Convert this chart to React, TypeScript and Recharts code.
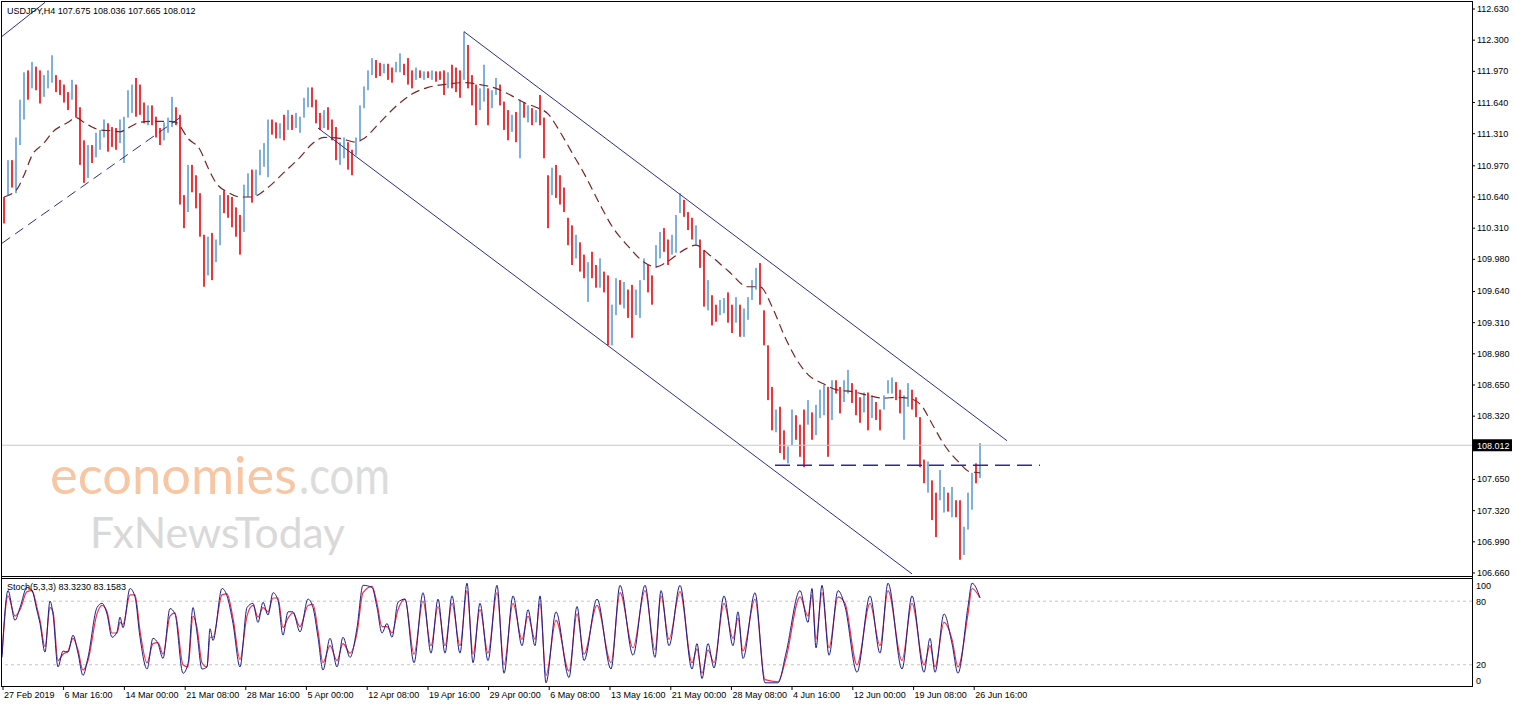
import React from 'react';
import { ComposedChart, Bar, Line, XAxis, YAxis, ReferenceLine } from 'recharts';

// USDJPY H4, 27 Feb - 26 Jun 2019, one stick per slot
const highs = [
  110.64, 111.03, 111.03, 111.27, 111.67, 111.96, 111.98, 112.07, 112.02, 111.98,
  111.93, 111.98, 112.14, 111.93, 111.88, 111.83, 111.75, 111.88, 111.83, 111.59,
  111.24, 111.19, 111.19, 111.32, 111.35, 111.46, 111.42, 111.38, 111.37, 111.46,
  111.49, 111.77, 111.83, 111.9, 111.83, 111.64, 111.61, 111.61, 111.49, 111.37,
  111.43, 111.48, 111.7, 111.59, 111.51, 110.66, 110.98, 110.98, 110.87, 110.68,
  110.24, 110.22, 110.26, 110.19, 110.66, 110.71, 110.66, 110.64, 110.53, 110.45,
  110.77, 110.89, 110.93, 110.93, 111.14, 111.21, 111.46, 111.46, 111.43, 111.42,
  111.51, 111.56, 111.51, 111.53, 111.49, 111.69, 111.8, 111.8, 111.67, 111.53,
  111.56, 111.59, 111.46, 111.38, 111.22, 111.27, 111.22, 111.14, 111.27, 111.61,
  111.81, 111.98, 112.11, 112.09, 112.06, 112.05, 112.05, 112.01, 112.07, 112.16,
  112.05, 112.11, 111.98, 112.01, 111.98, 111.97, 111.97, 111.98, 111.97, 111.97,
  111.98, 111.96, 112.04, 112.01, 111.98, 112.39, 112.25, 111.93, 111.83, 111.79,
  112.04, 111.79, 111.77, 111.9, 111.83, 111.65, 111.56, 111.51, 111.54, 111.67,
  111.64, 111.61, 111.58, 111.56, 111.72, 111.48, 110.87, 110.95, 110.98, 110.87,
  110.74, 110.42, 110.34, 110.24, 110.16, 110.03, 109.95, 110.06, 109.92, 109.99,
  109.85, 109.81, 109.5, 109.78, 109.76, 109.74, 109.66, 109.71, 109.66, 109.76,
  109.99, 109.92, 109.81, 110.13, 110.27, 110.31, 110.19, 110.24, 110.45, 110.68,
  110.61, 110.48, 110.42, 110.34, 110.19, 110.08, 109.76, 109.6, 109.5, 109.55,
  109.57, 109.63, 109.5, 109.58, 109.5, 109.46, 109.58, 109.76, 109.89, 109.94,
  109.44, 109.07, 108.63, 108.39, 108.42, 108.17, 108.0, 108.39, 108.33, 108.23,
  108.39, 108.49, 108.36, 108.44, 108.6, 108.65, 108.63, 108.7, 108.7, 108.63,
  108.7, 108.81, 108.67, 108.6, 108.52, 108.57, 108.57, 108.54, 108.47, 108.39,
  108.54, 108.7, 108.73, 108.68, 108.6, 108.54, 108.67, 108.6, 108.52, 108.31,
  107.86, 107.84, 107.64, 107.51, 107.75, 107.57, 107.51, 107.57, 107.43, 107.43,
  107.15, 107.51, 107.72, 107.82, 108.036,
];

const lows = [
  110.36, 110.66, 110.74, 110.68, 111.19, 111.46, 111.67, 111.79, 111.77, 111.63,
  111.7, 111.79, 111.85, 111.75, 111.72, 111.64, 111.56, 111.67, 111.48, 110.98,
  110.79, 110.84, 111.0, 111.06, 111.14, 111.27, 111.12, 111.17, 111.14, 111.21,
  111.0, 111.48, 111.53, 111.49, 111.51, 111.42, 111.4, 111.4, 111.27, 111.19,
  111.24, 111.32, 111.38, 111.4, 110.56, 110.31, 110.48, 110.69, 110.52, 110.22,
  109.69, 109.81, 109.76, 109.95, 110.13, 110.47, 110.42, 110.32, 110.22, 110.03,
  110.27, 110.64, 110.58, 110.66, 110.87, 110.96, 110.85, 111.3, 111.26, 111.26,
  111.24, 111.35, 111.35, 111.37, 111.32, 111.48, 111.59, 111.59, 111.42, 111.35,
  111.37, 111.35, 111.24, 111.03, 110.98, 111.05, 110.93, 110.87, 111.08, 111.24,
  111.58, 111.77, 111.93, 111.9, 111.92, 111.95, 111.88, 111.85, 111.96, 111.96,
  111.93, 111.83, 111.79, 111.88, 111.9, 111.88, 111.9, 111.88, 111.86, 111.88,
  111.72, 111.79, 111.79, 111.75, 111.69, 111.88, 111.79, 111.61, 111.4, 111.56,
  111.65, 111.4, 111.58, 111.72, 111.61, 111.35, 111.24, 111.33, 111.22, 111.05,
  111.48, 111.43, 111.4, 111.43, 111.4, 111.05, 110.31, 110.66, 110.63, 110.56,
  110.48, 110.13, 109.92, 109.99, 109.85, 109.78, 109.53, 109.78, 109.68, 109.68,
  109.63, 109.07, 109.07, 109.39, 109.5, 109.46, 109.36, 109.15, 109.39, 109.36,
  109.76, 109.63, 109.5, 109.89, 109.99, 110.06, 109.92, 110.03, 110.05, 110.47,
  110.43, 110.29, 110.19, 110.13, 109.89, 109.48, 109.44, 109.28, 109.32, 109.39,
  109.41, 109.31, 109.2, 109.31, 109.16, 109.16, 109.34, 109.55, 109.66, 109.5,
  109.07, 108.49, 108.17, 108.15, 107.93, 107.86, 107.82, 108.01, 108.07, 107.89,
  107.78, 108.23, 108.07, 108.12, 108.3, 108.33, 107.89, 108.28, 108.56, 108.35,
  108.47, 108.56, 108.46, 108.33, 108.25, 108.36, 108.17, 108.3, 108.28, 108.17,
  108.39, 108.56, 108.56, 108.49, 108.35, 108.07, 108.42, 108.39, 108.31, 107.78,
  107.61, 107.51, 107.22, 107.04, 107.43, 107.3, 107.31, 107.25, 107.25, 106.8,
  106.85, 107.12, 107.33, 107.61, 107.665,
];

// u = bull bar, d = bear bar
const dirs = (
  'd u d u u u d u d d  u u u d d d d u d d  d u d u u u d d d u  u u u d d d u d d d  ' +
  'u u u d d d u d d d  d u d u u d d d d d  u u d u u u u d d u  d u d u u u u d d d  ' +
  'u d d d u u d d u u  u u u d d u d d u u  d d d u d u d u d d  d u d d d u d d d u  ' +
  'u d u u d d d u d u  d u d u d d d u d d  d d d u d d u d d u  d d u u d u d d u u  ' +
  'u d d u u d d u u u  d d d u d d u d d u  u d d u d u u u u d  d d d u d d u u d d  ' +
  'd u d u u u d u d d  u u d d d u d u d d  u u u d d u u d d d  d u d d u u d u d d  ' +
  'u u u d u'
).split(/\s+/);

// moving average (dashed)
const maBar = [
  0, 3, 5, 7, 10, 12, 16, 18, 20, 22, 24, 27, 29, 31, 34, 37, 41, 43, 46, 49,
  51, 53, 56, 59, 62, 66, 70, 74, 77, 80, 84, 88, 90, 94, 98, 102, 106, 110, 115, 119,
  123, 127, 130, 133, 136, 139, 142, 145, 149, 152, 156, 160, 163, 166, 170, 173, 176, 181, 186, 189,
  192, 195, 198, 201, 205, 208, 212, 216, 220, 223, 226, 229, 232, 235, 239, 241, 244,
];
const maVal = [
  110.64, 110.71, 110.87, 111.08, 111.21, 111.32, 111.43, 111.48, 111.43, 111.38,
  111.35, 111.34, 111.33, 111.37, 111.43, 111.44, 111.44, 111.43, 111.26, 111.14,
  110.95, 110.79, 110.69, 110.64, 110.64, 110.74, 110.9, 111.06, 111.2, 111.27,
  111.26, 111.22, 111.26, 111.43, 111.6, 111.73, 111.8, 111.83, 111.85, 111.83,
  111.79, 111.71, 111.64, 111.59, 111.52, 111.33, 111.11, 110.89, 110.56, 110.33,
  110.12, 109.95, 109.9, 109.96, 110.08, 110.13, 110.04, 109.86, 109.69, 109.69,
  109.48, 109.18, 108.93, 108.76, 108.66, 108.6, 108.58, 108.54, 108.51, 108.52,
  108.51, 108.45, 108.24, 108.02, 107.82, 107.74, 107.72,
];

// Stochastic (5,3,3)
const stochBar = [
  -0.5, 1, 2.75, 4, 5.75, 7, 8.25, 9, 10.25, 11.5,
  12.25, 13.5, 14.75, 16, 17.25, 18.5, 19.75, 21, 23.25, 24.5,
  25.75, 27, 28.25, 29, 29.75, 31.5, 32.75, 34, 35.75, 37.25,
  38.5, 39.75, 41.5, 42.75, 44.75, 46, 47.25, 48.25, 49.5, 50.75,
  51.5, 52.25, 54.5, 55.75, 57.25, 59, 60.75, 62.25, 63.5, 64.75,
  66, 67.25, 68.5, 69.75, 71, 72.25, 74, 76, 77.25, 78.5,
  79.75, 81.5, 83.25, 84.75, 86.5, 88.25, 89.75, 92, 93.25, 94.5,
  95.75, 97, 98.5, 100.25, 102.5, 104.75, 106.75, 108.5, 110.25, 112,
  114, 115.75, 117.25, 119, 121, 123.25, 125, 127.25, 129.5, 131,
  132.75, 134, 135.5, 138, 141.25, 143.25, 145, 148.25, 151.75, 154,
  157.25, 160.25, 162.75, 164.25, 166.25, 169, 172, 173.25, 174.5, 176,
  177.5, 180, 182.25, 183.5, 184.75, 187.75, 190.25, 193.5, 195.5, 199,
  201, 202, 203, 204.5, 206.25, 208.5, 210.25, 213.25, 216.5, 219,
  221, 224.5, 227, 230, 231.5, 232.75, 235, 237, 238.5, 241,
  242, 244,
];
const stochK = [
  27, 90, 62, 74, 93, 90, 71, 59, 32, 80,
  68, 18, 33, 32, 48, 31, 10, 27, 74, 78,
  68, 46, 51, 65, 55, 92, 84, 46, 16, 45,
  40, 26, 73, 68, 12, 21, 74, 50, 16, 18,
  54, 43, 92, 85, 59, 18, 74, 78, 60, 79,
  67, 88, 81, 48, 70, 70, 51, 82, 74, 46,
  15, 45, 18, 46, 27, 55, 95, 93, 74, 50,
  59, 46, 79, 82, 22, 88, 31, 82, 31, 85,
  31, 97, 22, 78, 24, 95, 12, 85, 38, 72,
  38, 85, 3, 70, 8, 75, 24, 82, 16, 95,
  29, 95, 27, 90, 38, 95, 16, 40, 7, 40,
  17, 85, 38, 70, 26, 88, 3, 3, 31, 90,
  60, 92, 36, 95, 29, 90, 75, 13, 85, 31,
  97, 16, 85, 13, 45, 13, 68, 40, 12, 75,
  97, 83.323,
];
const stochD = [
  30, 85, 66, 72, 89, 90, 74, 62, 37, 74,
  70, 24, 30, 33, 45, 34, 15, 24, 68, 76,
  70, 50, 50, 60, 58, 86, 86, 52, 22, 40,
  41, 30, 66, 69, 20, 18, 66, 55, 22, 18,
  46, 46, 86, 87, 64, 25, 66, 76, 65, 74,
  70, 83, 83, 55, 64, 69, 56, 76, 77, 52,
  22, 38, 24, 40, 31, 50, 88, 94, 78, 56,
  56, 50, 72, 82, 30, 80, 38, 75, 38, 78,
  38, 90, 30, 72, 31, 88, 20, 78, 44, 66,
  44, 78, 10, 62, 14, 68, 30, 76, 22, 88,
  36, 90, 34, 85, 44, 89, 22, 35, 12, 34,
  22, 78, 45, 64, 33, 82, 6, 4, 26, 84,
  66, 86, 44, 88, 36, 84, 78, 20, 78, 38,
  90, 24, 78, 20, 38, 18, 60, 44, 18, 68,
  92, 83.158,
];

const priceTicks = [
  112.63, 112.3, 111.97, 111.64, 111.31, 110.97, 110.64, 110.31, 109.98,
  109.64, 109.31, 108.98, 108.65, 108.32, 107.65, 107.32, 106.99, 106.66,
];
const stochTicks = [0, 20, 80, 100];
const timeTicks = [
  -0.25, 14.9, 30.1, 45.3, 60.45, 75.6, 90.8, 106, 121.15, 136.3, 151.5,
  166.7, 181.85, 197, 212.2, 227.4, 242.55,
];
const timeLabels = [
  '27 Feb 2019', '6 Mar 16:00', '14 Mar 00:00', '21 Mar 08:00', '28 Mar 16:00',
  '5 Apr 00:00', '12 Apr 08:00', '19 Apr 16:00', '29 Apr 00:00', '6 May 08:00',
  '13 May 16:00', '21 May 00:00', '28 May 08:00', '4 Jun 16:00', '12 Jun 00:00',
  '19 Jun 08:00', '26 Jun 16:00',
];

// drawn objects: [bar, price] anchors
const upperChannel = [[115, 112.39], [250.75, 108.06]];
const lowerChannel = [[78.5, 111.37], [227, 106.65]];
const oldChannelTop = [[-0.5, 112.34], [10.25, 112.7]];
const oldChannelBottom = [[-0.5, 110.15], [44, 111.48]];
const supportLine = [[192.75, 107.8], [259, 107.8]];
const lastPrice = 108.012;

const FONT = '"Liberation Sans", Arial, sans-serif';
const UP = '#7fb1dc';
const DOWN = '#f0343c';
const NAVY = '#2c2c96';
const X_DOMAIN = [-0.5, 367];

const bars = highs.map((h, i) => ({ i, hl: [lows[i], h], up: dirs[i] === 'u' }));
const maData = maBar.map((b, j) => ({ i: b, ma: maVal[j] }));
const stochData = stochBar.map((b, j) => ({ i: b, k: stochK[j], d: stochD[j] }));

const seg = (s: number[][]) => s.map(([x, y]) => ({ x, y }));

const Stick = (p: any) => {
  const { x, y, width, height, payload } = p;
  if (x == null || y == null) return null;
  const top = Math.min(y, y + height);
  const cx = Math.round(x + width / 2) - 1;
  return <rect x={cx} y={top} width={2} height={Math.max(1, Math.abs(height))} fill={payload.up ? UP : DOWN} />;
};

const PriceTick = (p: any) => (
  <text x={p.x} y={p.y + 3} fontSize={9} fill="#000" fontFamily={FONT}>
    {Number(p.payload.value).toFixed(3)}
  </text>
);

const StochTick = (p: any) => {
  const v = p.payload.value;
  const dy = v === 100 ? 8.5 : v === 0 ? -2.5 : 3.5;
  return (
    <text x={p.x} y={p.y + dy} fontSize={9} fill="#000" fontFamily={FONT}>
      {v}
    </text>
  );
};

const TimeTick = (p: any) => (
  <text x={p.x + 1} y={p.y + 6} fontSize={9} fill="#000" fontFamily={FONT}>
    {timeLabels[p.index]}
  </text>
);

const PriceTag = (p: any) => {
  const vb = p.viewBox;
  if (!vb) return null;
  const x = vb.x + vb.width + 1;
  return (
    <g>
      <rect x={x} y={vb.y - 6} width={39} height={12} fill="#000" />
      <text x={x + 4} y={vb.y + 3.5} fontSize={9} fill="#fff" fontFamily={FONT}>
        {lastPrice.toFixed(3)}
      </text>
    </g>
  );
};

export default function App() {
  return (
    <div style={{ position: 'absolute', left: 0, top: 0, width: 1515, height: 706, background: '#fff', overflow: 'hidden' }}>
      {/* watermark */}
      <svg width={1515} height={706} style={{ position: 'absolute', left: 0, top: 0 }}>
        <text fontFamily="Lato, sans-serif">
          <tspan x={50} y={494} fontSize={52} fill="#f8c6a2" textLength={247} lengthAdjust="spacingAndGlyphs">
            economies
          </tspan>
          <tspan x={299} y={494} fontSize={52} fill="#dcdcdc" textLength={91} lengthAdjust="spacingAndGlyphs">
            .com
          </tspan>
        </text>
        <text x={90} y={548} fontSize={42} fill="#d9d9d9" fontFamily="Lato, sans-serif" textLength={255} lengthAdjust="spacingAndGlyphs">
          FxNewsToday
        </text>
      </svg>

      <div style={{ position: 'absolute', left: 0, top: 0 }}>
        <ComposedChart width={1515} height={578} data={bars} margin={{ top: 2, right: 0, bottom: 2, left: 2 }}>
          <XAxis dataKey="i" type="number" domain={X_DOMAIN} hide allowDataOverflow />
          <YAxis
            orientation="right"
            width={43}
            domain={[106.628, 112.704]}
            ticks={priceTicks}
            interval={0}
            allowDataOverflow
            axisLine={false}
            tickLine={{ stroke: '#000' }}
            tickSize={3}
            tickMargin={2}
            tick={<PriceTick />}
          />
          <ReferenceLine y={lastPrice} stroke="#c9c9c9" label={<PriceTag />} />
          <Bar dataKey="hl" barSize={2} shape={<Stick />} isAnimationActive={false} />
          <Line
            data={maData}
            dataKey="ma"
            type="monotone"
            stroke="#7a2424"
            strokeWidth={1.2}
            strokeDasharray="9 5"
            dot={false}
            activeDot={false}
            isAnimationActive={false}
          />
          <ReferenceLine segment={seg(upperChannel)} stroke={NAVY} ifOverflow="hidden" />
          <ReferenceLine segment={seg(lowerChannel)} stroke={NAVY} ifOverflow="hidden" />
          <ReferenceLine segment={seg(oldChannelTop)} stroke={NAVY} ifOverflow="hidden" />
          <ReferenceLine segment={seg(oldChannelBottom)} stroke={NAVY} strokeDasharray="10 6" ifOverflow="hidden" />
          <ReferenceLine segment={seg(supportLine)} stroke={NAVY} strokeWidth={1.5} strokeDasharray="15 7" ifOverflow="hidden" />
        </ComposedChart>
      </div>

      <div style={{ position: 'absolute', left: 0, top: 578 }}>
        <ComposedChart width={1515} height={128} data={stochData} margin={{ top: 2, right: 0, bottom: 0, left: 2 }}>
          <XAxis
            dataKey="i"
            type="number"
            domain={X_DOMAIN}
            allowDataOverflow
            ticks={timeTicks}
            interval={0}
            height={20}
            axisLine={false}
            tickLine={{ stroke: '#000' }}
            tickSize={4}
            tickMargin={2}
            tick={<TimeTick />}
          />
          <YAxis
            orientation="right"
            width={43}
            domain={[0, 100]}
            ticks={stochTicks}
            interval={0}
            axisLine={false}
            tickLine={false}
            tickSize={2}
            tickMargin={2}
            tick={<StochTick />}
          />
          <ReferenceLine y={80} stroke="#c4c4c4" strokeDasharray="3 3" />
          <ReferenceLine y={20} stroke="#c4c4c4" strokeDasharray="3 3" />
          <Line dataKey="d" type="monotone" stroke="#f0304a" strokeWidth={1.2} dot={false} activeDot={false} isAnimationActive={false} />
          <Line dataKey="k" type="monotone" stroke="#1e1e8c" strokeWidth={1} dot={false} activeDot={false} isAnimationActive={false} />
        </ComposedChart>
      </div>

      <svg width={1515} height={706} style={{ position: 'absolute', left: 0, top: 0, pointerEvents: 'none' }}>
        <g stroke="#000" strokeWidth={1} shapeRendering="crispEdges">
          <line x1={1.5} y1={1} x2={1.5} y2={687} />
          <line x1={1} y1={1.5} x2={1473} y2={1.5} />
          <line x1={1472.5} y1={1} x2={1472.5} y2={687} />
          <line x1={1} y1={576.5} x2={1473} y2={576.5} />
          <line x1={1} y1={578.5} x2={1473} y2={578.5} />
          <line x1={1} y1={686.5} x2={1473} y2={686.5} />
        </g>
        <text x={7} y={13.5} fontSize={9} fill="#000" fontFamily={FONT}>
          USDJPY,H4  107.675 108.036 107.665 108.012
        </text>
        <text x={7} y={590} fontSize={9} fill="#000" fontFamily={FONT}>
          Stoch(5,3,3) 83.3230 83.1583
        </text>
      </svg>
    </div>
  );
}
